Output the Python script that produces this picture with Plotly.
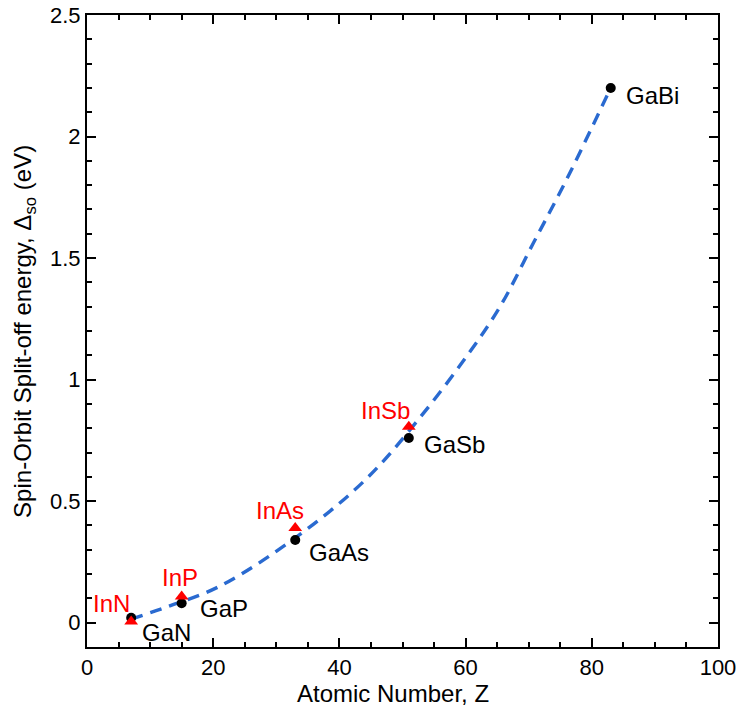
import plotly.graph_objects as go

# Ga compounds (black circles)
ga_names = ["GaN", "GaP", "GaAs", "GaSb", "GaBi"]
ga_z = [7, 15, 33, 51, 83]
ga_dso = [0.02, 0.08, 0.34, 0.76, 2.2]

# In compounds (red triangles)
in_names = ["InN", "InP", "InAs", "InSb"]
in_z = [7, 15, 33, 51]
in_dso = [0.005, 0.108, 0.39, 0.806]

# dashed trend curve
fit_z = [7, 13, 21.1, 33.8, 44.4, 52.8, 60.2, 65.5, 70.7, 76, 83]
fit_dso = [0.015, 0.068, 0.151, 0.364, 0.595, 0.845, 1.097, 1.302, 1.56, 1.823, 2.2]

x_ticks = [0, 20, 40, 60, 80, 100]
y_ticks = [0, 0.5, 1, 1.5, 2, 2.5]
y_tick_text = ["0", "0.5", "1", "1.5", "2", "2.5"]

FONT = "Liberation Sans, Arial, sans-serif"
RED = "#ff0000"
BLUE = "#2a6ad0"

fig = go.Figure()
fig.add_trace(go.Scatter(x=fit_z, y=fit_dso, mode="lines",
                         line=dict(color=BLUE, width=3.4, dash="12px,8px", shape="spline",
                                   smoothing=1.0),
                         hoverinfo="skip", showlegend=False))
fig.add_trace(go.Scatter(x=ga_z, y=ga_dso, mode="markers",
                         marker=dict(color="black", size=10, symbol="circle"),
                         showlegend=False))
fig.add_trace(go.Scatter(x=in_z, y=in_dso, mode="markers",
                         marker=dict(color=RED, size=12, symbol="triangle-up"),
                         showlegend=False))

ga_shift = {"GaN": (9, -15), "GaP": (16, -5), "GaAs": (12, -12), "GaSb": (13, -7), "GaBi": (13, -8)}
for n, z, d in zip(ga_names, ga_z, ga_dso):
    xs, ys = ga_shift[n]
    fig.add_annotation(x=z, y=d, text=n, showarrow=False, xanchor="left", yanchor="middle",
                       xshift=xs, yshift=ys, font=dict(family=FONT, size=24, color="black"))

in_shift = {"InN": ("right", 1, 18), "InP": ("center", -2, 19), "InAs": ("center", -15, 17),
            "InSb": ("center", -23, 16)}
for n, z, d in zip(in_names, in_z, in_dso):
    xa, xs, ys = in_shift[n]
    fig.add_annotation(x=z, y=d, text=n, showarrow=False, xanchor=xa, yanchor="middle",
                       xshift=xs, yshift=ys, font=dict(family=FONT, size=24, color=RED))

fig.add_annotation(xref="paper", yref="paper", x=-0.1, y=0.5,
                   text="Spin-Orbit Split-off energy, Δ<sub>so</sub> (eV)",
                   textangle=-90, showarrow=False, xanchor="center", yanchor="middle",
                   font=dict(family=FONT, size=24, color="black"))
fig.add_annotation(xref="paper", yref="paper", x=0.4846, y=-0.074,
                   text="Atomic Number, Z", showarrow=False,
                   xanchor="center", yanchor="middle",
                   font=dict(family=FONT, size=24, color="black"))

axis_common = dict(showgrid=False, zeroline=False, showline=True, linecolor="black",
                   linewidth=2, mirror="ticks", ticks="inside", ticklen=9, tickwidth=2,
                   tickcolor="black", automargin=False,
                   tickfont=dict(family=FONT, size=22, color="black"))

fig.update_xaxes(range=[0, 100], tickvals=x_ticks, ticktext=[str(v) for v in x_ticks],
                 minor=dict(dtick=5, ticks="inside", ticklen=5, tickwidth=2, tickcolor="black"),
                 **axis_common)
fig.update_yaxes(range=[-0.1, 2.5], tickvals=y_ticks, ticktext=y_tick_text,
                 minor=dict(dtick=0.1, ticks="inside", ticklen=5, tickwidth=2, tickcolor="black"),
                 **axis_common)

fig.update_layout(width=742, height=710, margin=dict(l=87, r=24, t=15, b=63),
                  plot_bgcolor="white", paper_bgcolor="white",
                  font=dict(family=FONT, color="black"))

fig.write_html("out.html")
